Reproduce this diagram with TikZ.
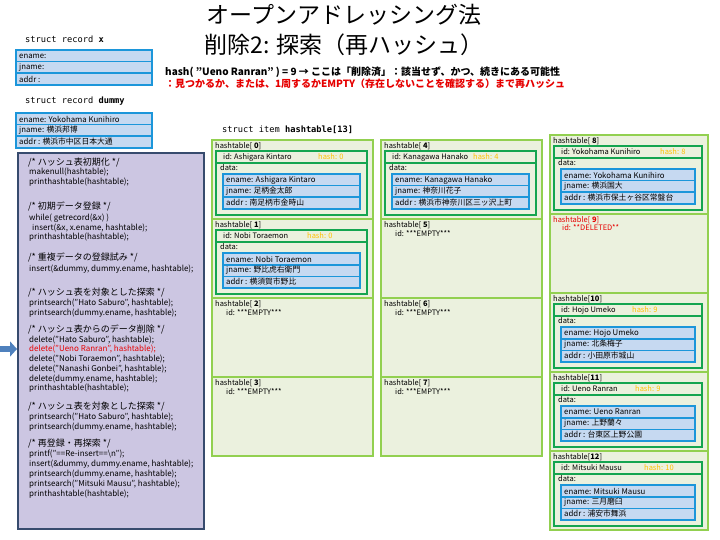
\documentclass[tikz,border=0pt]{standalone}
\usepackage{fontspec}
\setmainfont{Noto Sans CJK JP}
\setmonofont{DejaVu Sans Mono}
\usetikzlibrary{arrows.meta}
\definecolor{slotgreen}{RGB}{146,208,80}
\definecolor{slotfill}{RGB}{235,241,222}
\definecolor{dgreen}{RGB}{20,165,80}
\definecolor{recblue}{RGB}{28,150,218}
\definecolor{rowblue}{RGB}{198,217,241}
\definecolor{codefill}{RGB}{204,198,226}
\definecolor{codeline}{RGB}{55,75,110}
\definecolor{hashgold}{RGB}{255,192,0}
\definecolor{delred}{RGB}{230,0,0}
\definecolor{arrowblue}{RGB}{79,129,189}
\tikzset{
 slotbox/.style={draw=slotgreen, line width=2.5pt, fill=slotfill},
 framebox/.style={draw=dgreen, line width=2.5pt, fill=slotfill},
 recbox/.style={fill=recblue},
 rowbox/.style={fill=rowblue},
 small/.style={font=\fontsize{7.5}{8}\selectfont, anchor=west, inner sep=0pt},
 rowtxt/.style={font=\fontsize{7.8}{8}\selectfont, anchor=west, inner sep=0pt},
 codetxt/.style={font=\fontsize{8}{9}\selectfont, anchor=west, inner sep=0pt},
 cmttxt/.style={font=\fontsize{9}{10}\selectfont, anchor=west, inner sep=0pt},
 monohead/.style={font=\ttfamily\fontsize{8.7}{10}\selectfont, anchor=west, inner sep=0pt},
 codebox/.style={draw=codeline, line width=2pt, fill=codefill, inner sep=0pt},
 bigarrow/.style={draw=arrowblue, line width=6pt, -{Triangle[length=7pt,width=15pt]}},
}
\newcommand\slotw{161}
% record rows: #1 name #2 L #3 T #4 R #5 ename #6 jname #7 addr
\newcommand\recrows[7]{%
 \fill[recbox] (#2,#3) rectangle (#4,#3+37);
 \fill[rowbox] (#2+2,#3+2) rectangle (#4-2,#3+12);
 \fill[rowbox] (#2+2,#3+13.5) rectangle (#4-2,#3+23.5);
 \fill[rowbox] (#2+2,#3+25) rectangle (#4-2,#3+35);
 \node[rowtxt] (#1e) at (#2+4,#3+7) {ename: #5};
 \node[rowtxt] (#1j) at (#2+4,#3+18.5) {jname: #6};
 \node[rowtxt] (#1a) at (#2+4,#3+30) {addr\ : #7};
}
% full slot: #1 L #2 T #3 key #4 index text #5 name #6 hash dx #7 hash #8 jname #9 addr
\newcommand\fullslot[9]{%
 \pgfmathsetmacro\sR{#1+\slotw}
 \pgfmathsetmacro\sB{#2+79}
 \draw[slotbox] (#1,#2) rectangle (\sR,\sB);
 \node[small] (lbl#3) at (#1+3,#2+6) {hashtable[#4]};
 \pgfmathsetmacro\fR{\sR-6}
 \draw[framebox] (#1+4,#2+11) rectangle (\fR,#2+75);
 \draw[dgreen, line width=2.5pt] (#1+4,#2+23) -- (\fR,#2+23);
 \node[small] (id#3) at (#1+11,#2+17) {id: #5};
 \node[small, text=hashgold] (hs#3) at (#1+#6,#2+17) {hash: #7};
 \node[small] (dt#3) at (#1+8,#2+28) {data:};
 \pgfmathsetmacro\bR{\sR-12}
 \pgfmathsetmacro\bL{#1+10}
 \pgfmathsetmacro\bT{#2+33}
 \recrows{r#3}{\bL}{\bT}{\bR}{#5}{#8}{#9}
}
% empty slot: #1 L #2 T #3 key #4 index text
\newcommand\emptyslot[4]{%
 \pgfmathsetmacro\sR{#1+\slotw}
 \draw[slotbox] (#1,#2) rectangle (\sR,#2+79);
 \node[small] (lbl#3) at (#1+3,#2+6) {hashtable[#4]};
 \node[small] (id#3) at (#1+14,#2+15) {id: ***EMPTY***};
}
\newcommand\delslot[4]{%
 \pgfmathsetmacro\sR{#1+\slotw}
 \draw[slotbox] (#1,#2) rectangle (\sR,#2+79);
 \node[small, text=delred] (lbl#3) at (#1+3,#2+6) {hashtable[#4]};
 \node[small, text=delred] (id#3) at (#1+12,#2+14) {id: **DELETED**};
}
\begin{document}
\begin{tikzpicture}[x=1pt,y=-1pt]
\useasboundingbox (0,0) rectangle (720,540);
\fill[white] (0,0) rectangle (720,540);

% titles
\node[font=\fontsize{23}{26}\selectfont, inner sep=0pt] (title1) at (344,15) {オープンアドレッシング法};
\node[font=\fontsize{23}{26}\selectfont, inner sep=0pt] (title2) at (344,45) {削除2: 探索（再ハッシュ）};
\node[font=\bfseries\fontsize{10}{12}\selectfont, anchor=west, inner sep=0pt] (hdr1) at (165,72) {hash( "Ueno Ranran" ) = 9 → ここは「削除済」：該当せず、かつ、続きにある可能性};
\node[font=\bfseries\fontsize{10}{12}\selectfont, anchor=west, inner sep=0pt, text=delred] (hdr2) at (165,84) {：見つかるか、または、1周するかEMPTY（存在しないことを確認する）まで再ハッシュ};

% struct record x
\node[monohead] (recx) at (25,39) {struct record \textbf{x}};
\recrows{x}{15}{49}{153}{}{}{}
\node[monohead] (recd) at (25,101) {struct record \textbf{dummy}};
\recrows{d}{15}{112}{153}{Yokohama Kunihiro}{横浜邦博}{横浜市中区日本大通}

% code box
\node[codebox, anchor=north west, minimum width=186pt, minimum height=376pt] (code) at (17,152) {};
\node[cmttxt] (c1) at (28,163) {/* ハッシュ表初期化 */};
\node[codetxt] (c2) at (29,172) {makenull(hashtable);};
\node[codetxt] (c3) at (29,182) {printhashtable(hashtable);};
\node[cmttxt] (c4) at (28,206) {/* 初期データ登録 */};
\node[codetxt] (c5) at (29,218) {while( getrecord(\&x) )};
\node[codetxt] (c6) at (32,228) {insert(\&x, x.ename, hashtable);};
\node[codetxt] (c7) at (29,237) {printhashtable(hashtable);};
\node[cmttxt] (c8) at (28,257) {/* 重複データの登録試み */};
\node[codetxt] (c9) at (29,269) {insert(\&dummy, dummy.ename, hashtable);};
\node[cmttxt] (c10) at (28,293) {/* ハッシュ表を対象とした探索 */};
\node[codetxt] (c11) at (29,303) {printsearch("Hato Saburo", hashtable);};
\node[codetxt] (c12) at (29,313) {printsearch(dummy.ename, hashtable);};
\node[cmttxt] (c13) at (28,329) {/* ハッシュ表からのデータ削除 */};
\node[codetxt] (c14) at (29,340) {delete("Hato Saburo", hashtable);};
\node[codetxt, text=delred] (c15) at (29,349) {delete("Ueno Ranran", hashtable);};
\node[codetxt] (c16) at (29,359) {delete("Nobi Toraemon", hashtable);};
\node[codetxt] (c17) at (29,369) {delete("Nanashi Gonbei", hashtable);};
\node[codetxt] (c18) at (29,379) {delete(dummy.ename, hashtable);};
\node[codetxt] (c19) at (29,388) {printhashtable(hashtable);};
\node[cmttxt] (c20) at (28,407) {/* ハッシュ表を対象とした探索 */};
\node[codetxt] (c21) at (29,417) {printsearch("Hato Saburo", hashtable);};
\node[codetxt] (c22) at (29,427) {printsearch(dummy.ename, hashtable);};
\node[cmttxt] (c23) at (28,444) {/* 再登録・再探索 */};
\node[codetxt] (c24) at (29,454) {printf("==Re-insert==\textbackslash n");};
\node[codetxt] (c25) at (29,464) {insert(\&dummy, dummy.ename, hashtable);};
\node[codetxt] (c26) at (29,474) {printsearch(dummy.ename, hashtable);};
\node[codetxt] (c27) at (29,484) {printsearch("Mitsuki Mausu", hashtable);};
\node[codetxt] (c28) at (29,494) {printhashtable(hashtable);};

% arrow
\coordinate (arrS) at (0,349);
\draw[bigarrow] (arrS) -- (code.west |- arrS);

% hashtable header
\node[monohead] (item) at (222,130) {struct item \textbf{hashtable[13]}};

% column 1
\fullslot{212}{140}{0}{\ \textbf{0}}{Ashigara Kintaro}{106}{0}{足柄金太郎}{南足柄市金時山}
\fullslot{212}{219}{1}{\ \textbf{1}}{Nobi Toraemon}{95}{0}{野比虎右衛門}{横須賀市野比}
\emptyslot{212}{298}{2}{\ \textbf{2}}
\emptyslot{212}{377}{3}{\ \textbf{3}}
% column 2
\fullslot{381}{140}{4}{\ \textbf{4}}{Kanagawa Hanako}{92}{4}{神奈川花子}{横浜市神奈川区三ッ沢上町}
\emptyslot{381}{219}{5}{\ \textbf{5}}
\emptyslot{381}{298}{6}{\ \textbf{6}}
\emptyslot{381}{377}{7}{\ \textbf{7}}
% column 3
\renewcommand\slotw{158}
\fullslot{550}{135}{8}{\ \textbf{8}}{Yokohama Kunihiro}{110}{8}{横浜国大}{横浜市保土ヶ谷区常盤台}
\delslot{550}{214}{9}{\ \textbf{9}}
\fullslot{550}{293}{10}{\textbf{10}}{Hojo Umeko}{82}{9}{北条梅子}{小田原市城山}
\fullslot{550}{372}{11}{\textbf{11}}{Ueno Ranran}{85}{9}{上野蘭々}{台東区上野公園}
\fullslot{550}{451}{12}{\textbf{12}}{Mitsuki Mausu}{94}{10}{三月磨臼}{浦安市舞浜}
\end{tikzpicture}
\end{document}
